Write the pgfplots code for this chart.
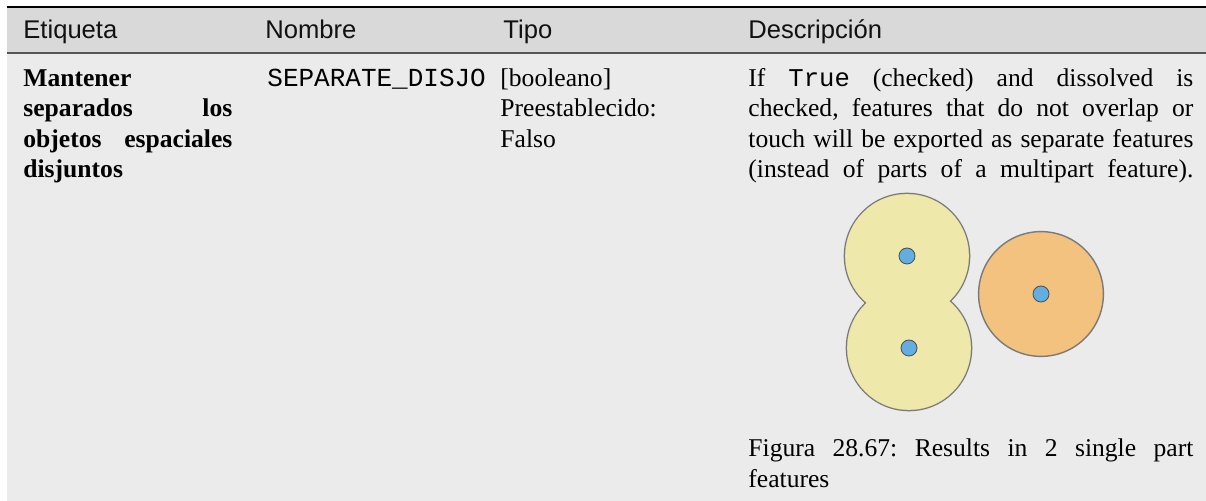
\documentclass[border=0pt]{standalone}
\usepackage{pgfplots}
\pgfplotsset{compat=1.18}
\usepackage{fontspec}
\setmainfont{Liberation Serif}
\setsansfont{Liberation Sans}
\setmonofont{Liberation Mono}
\definecolor{hdrbg}{HTML}{D9D9D9}
\definecolor{bodybg}{HTML}{EBEBEB}
\definecolor{rulegray}{HTML}{555555}
\definecolor{yel}{HTML}{EEE8AA}
\definecolor{ora}{HTML}{F2C27E}
\definecolor{dotblue}{HTML}{62AEE2}
\definecolor{outl}{HTML}{7A7A7A}
\definecolor{txt}{HTML}{111111}
\newcommand\bodyfont{\fontsize{12.8pt}{14.6pt}\selectfont}
\newcommand\J[2]{\makebox[#1][s]{#2}}
\frenchspacing
\begin{document}
\begin{tikzpicture}
\begin{axis}[xmin=0,xmax=1206,ymin=0,ymax=501,y dir=reverse,
  width=603pt,height=250.5pt,scale only axis,hide axis,clip=false]
% backgrounds
\fill[white] (0,0) rectangle (1206,501);
\fill[hdrbg] (7,8) rectangle (1206,52);
\fill[bodybg] (7,53) rectangle (1206,501);
\fill[black] (7,5.8) rectangle (1206,8.2);
\fill[rulegray] (7,51.8) rectangle (1206,53.8);
% header
\begin{scope}[every node/.style={anchor=base west,inner sep=0,text=txt,font=\sffamily\bodyfont}]
\node at (23,38.5) {Etiqueta};
\node at (265,38.5) {Nombre};
\node at (503,38.5) {Tipo};
\node at (748,38.5) {Descripción};
\end{scope}
% body
\begin{scope}[every node/.style={anchor=base west,inner sep=0,text=black,font=\bodyfont}]
\node[font=\bfseries\bodyfont] at (23,86.5) {Mantener};
\node[font=\bfseries\bodyfont] at (23,117) {\J{104.5pt}{separados los}};
\node[font=\bfseries\bodyfont] at (23,147.5) {\J{104.5pt}{objetos espaciales}};
\node[font=\bfseries\bodyfont] at (23,178) {disjuntos};
\node[font=\ttfamily\fontsize{13pt}{14.6pt}\selectfont] at (267,86.5) {SEPARATE\_DISJO};
\node at (500,86.5) {[booleano]};
\node at (500,117) {Preestablecido:};
\node at (500,147.5) {Falso};
\node at (748,86.5) {\J{222.5pt}{If \texttt{True} (checked) and dissolved is}};
\node at (748,117) {\J{222.5pt}{checked, features that do not overlap or}};
\node at (748,147.5) {\J{222.5pt}{touch will be exported as separate features}};
\node at (748,178) {\J{222.5pt}{(instead of parts of a multipart feature).}};
\node at (748,457) {\J{222.5pt}{Figura 28.67: Results in 2 single part}};
\node at (748,488) {features};
\end{scope}
% figure: dissolved (yellow) feature made of two buffers
\addplot[only marks, mark=*, mark size=31pt,
  mark options={fill=yel, draw=outl, line width=1.3pt}]
  coordinates {(907,256) (909,348)};
\addplot[only marks, mark=*, mark size=30.9pt,
  mark options={fill=yel, draw=yel, line width=0.1pt}]
  coordinates {(907,256) (909,348)};
% separate (orange) feature
\addplot[only marks, mark=*, mark size=31.2pt,
  mark options={fill=ora, draw=outl, line width=0.7pt}]
  coordinates {(1041,294)};
% points
\addplot[only marks, mark=*, mark size=4pt,
  mark options={fill=dotblue, draw=black!70, line width=0.4pt}]
  coordinates {(907,256) (909,348) (1041,294)};
\end{axis}
\end{tikzpicture}
\end{document}
